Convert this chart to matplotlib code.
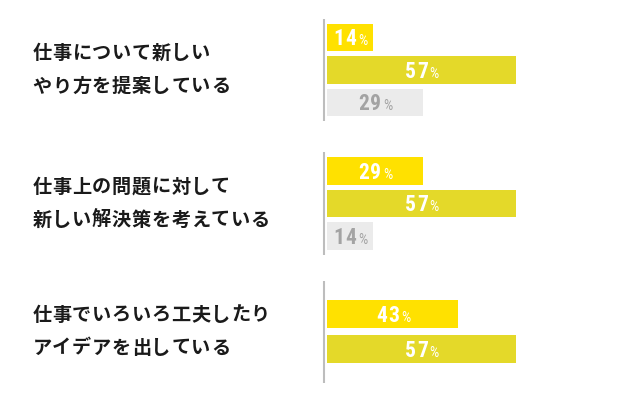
import matplotlib.pyplot as plt
from matplotlib import transforms

plt.rcParams['font.family'] = ['Noto Sans CJK JP', 'DejaVu Sans']

# data
labels = [
    ["仕事について新しい", "やり方を提案している"],
    ["仕事上の問題に対して", "新しい解決策を考えている"],
    ["仕事でいろいろ工夫したり", "アイデアを出している"],
]
pct_labels = [
    [14, 57, 29],
    [29, 57, 14],
    [43, 57],
]
# bar lengths as drawn (the 43% bar is drawn shorter in the original)
bar_values = [
    [14, 57, 29],
    [29, 57, 14],
    [39.6, 57],
]

# styles
bar_colors = ["#FFE100", "#E4D929", "#EBEBEB"]
text_colors = ["white", "white", "#A3A3A3"]
num_font = ["Liberation Sans Narrow", "DejaVu Sans Condensed",
            "Roboto Condensed", "Noto Sans CJK JP"]

W, H = 626, 419
fig = plt.figure(figsize=(W / 100, H / 100), dpi=100)

# bar area: starts at px 327, 1% ~ 3.31 px, y axis in pixels from top
x0 = 327
px_per_pct = 3.31
ax = fig.add_axes([x0 / W, 0, (W - x0) / W, 1])
ax.set_xlim(0, (W - x0) / px_per_pct)
ax.set_ylim(H, 0)
ax.axis("off")

group_centers = [70, 203.5, 331.5]
pitch3 = 32.5
pitch2 = 35
bar_h = 27.5
line_half = 51
line_x = -3 / px_per_pct
char_pitch = 19.85
digit_pitch = 11.8

lbl_tr = transforms.blended_transform_factory(fig.transFigure, ax.transData)

for g, vals in enumerate(bar_values):
    c = group_centers[g]
    n = len(vals)
    pitch = pitch3 if n == 3 else pitch2
    ys = [c + (j - (n - 1) / 2) * pitch for j in range(n)]
    ax.barh(ys, vals, height=bar_h, color=bar_colors[:n], edgecolor="none")
    ax.vlines(line_x, c - line_half, c + line_half, color="#BDBDBD",
              linewidth=1.5, clip_on=False)
    for j, (v, y) in enumerate(zip(vals, ys)):
        digits = str(pct_labels[g][j])
        start = -(len(digits) * digit_pitch + 10) / 2
        for i, d in enumerate(digits):
            ax.annotate(d, xy=(v / 2, y),
                        xytext=(start + (i + 0.5) * digit_pitch, -7.5),
                        textcoords="offset pixels", ha="center",
                        va="baseline", fontsize=15.5, fontweight="bold",
                        family=num_font, color=text_colors[j])
        ax.annotate("%", xy=(v / 2, y),
                    xytext=(start + len(digits) * digit_pitch + 1.5, -7.5),
                    textcoords="offset pixels", ha="left", va="baseline",
                    fontsize=10.5, family=num_font, color=text_colors[j])
    for k, line in enumerate(labels[g]):
        for i, ch in enumerate(line):
            ax.annotate(ch, xy=(33 / W, c + (k - 0.5) * 33), xycoords=lbl_tr,
                        xytext=((i + 0.5) * char_pitch - 1, 0),
                        textcoords="offset pixels", ha="center", va="center",
                        fontsize=13.8, fontweight="bold", color="#1A1A1A")

fig.savefig("out.png", dpi=100)
